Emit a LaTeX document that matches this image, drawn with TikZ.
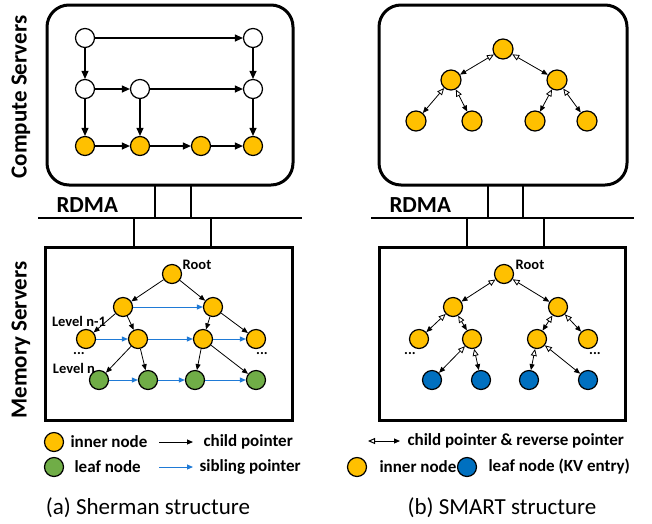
\documentclass[tikz,border=0pt]{standalone}
\usepackage{fontspec}
\setmainfont{Carlito}
\usetikzlibrary{arrows.meta}
\definecolor{ylw}{HTML}{FFC000}
\definecolor{grn}{HTML}{70AD47}
\definecolor{blu}{HTML}{0070C0}
\definecolor{sib}{HTML}{1F7AD6}
\begin{document}
\begin{tikzpicture}[x=1pt,y=-1pt,
  nd/.style={circle,draw,line width=1.2pt,minimum size=19pt,inner sep=0pt},
  wn/.style={nd,fill=white},
  yn/.style={nd,fill=ylw},
  gn/.style={nd,fill=grn},
  bn/.style={nd,fill=blu},
  carr/.style={-{Triangle[length=8pt,width=7pt]},line width=1.1pt},
  marr/.style={-{Triangle[length=6pt,width=5pt]},line width=0.8pt},
  sarr/.style={-{Triangle[length=6pt,width=5pt]},line width=0.9pt,draw=sib,color=sib},
  darr/.style={{Triangle[open,length=7pt,width=6pt,fill=white]}-{Triangle[length=6pt,width=5pt]},line width=0.8pt},
  box/.style={draw,line width=3pt},
  wire/.style={line width=2.8pt},
  big/.style={font=\fontsize{23}{26}\selectfont\bfseries},
  leg/.style={font=\fontsize{17}{20}\selectfont\bfseries},
  lab/.style={font=\fontsize{14.5}{16}\selectfont\bfseries},
  captxt/.style={font=\fontsize{23}{26}\selectfont}
]
\useasboundingbox (0,0) rectangle (652,523);

% ---------------- side labels
\node[big,rotate=90] (cs) at (21,97) {Compute Servers};
\node[big,rotate=90] (ms) at (21,340) {Memory Servers};

% ================= (a) Sherman =================
\draw[box,rounded corners=22pt] (47,5) rectangle (293,185);
\coordinate (acb1) at (155,185); \coordinate (acb2) at (191,185);
\coordinate (abus1) at (38,218); \coordinate (abus2) at (302,218);
\draw[wire] (abus1) -- (abus2);
\draw[wire] (acb1) -- (acb1 |- abus1);
\draw[wire] (acb2) -- (acb2 |- abus1);
\coordinate (amt1) at (134,247); \coordinate (amt2) at (211,247);
\draw[wire] (amt1 |- abus1) -- (amt1);
\draw[wire] (amt2 |- abus1) -- (amt2);
\node[big,anchor=west] (ardma) at (53,205) {RDMA};
\draw[box] (45,247) rectangle (292,420);

% compute nodes (a)
\node[wn] (c11) at (85,38) {};
\node[wn] (c12) at (253,38) {};
\node[wn] (c21) at (85,89) {};
\node[wn] (c22) at (140,89) {};
\node[wn] (c23) at (253,89) {};
\node[yn] (c31) at (85,146) {};
\node[yn] (c32) at (140,146) {};
\node[yn] (c33) at (201,146) {};
\node[yn] (c34) at (253,146) {};
\draw[carr] (c11) -- (c12);
\draw[carr] (c11) -- (c21);
\draw[carr] (c12) -- (c23);
\draw[carr] (c21) -- (c22);
\draw[carr] (c22) -- (c23);
\draw[carr] (c21) -- (c31);
\draw[carr] (c22) -- (c32);
\draw[carr] (c23) -- (c34);
\draw[carr] (c31) -- (c32);
\draw[carr] (c32) -- (c33);
\draw[carr] (c33) -- (c34);

% memory nodes (a)
\node[yn] (r) at (172,274) {};
\node[lab] (rl) at (197,265) {Root};
\node[yn] (a21) at (123,307) {};
\node[yn] (a22) at (213,307) {};
\node[yn] (a31) at (86,339) {};
\node[yn] (a32) at (138,339) {};
\node[yn] (a33) at (203,339) {};
\node[yn] (a34) at (256,339) {};
\node[gn] (a41) at (99,380) {};
\node[gn] (a42) at (148,380) {};
\node[gn] (a43) at (195,380) {};
\node[gn] (a44) at (256,380) {};
\node[lab] (ln1) at (79,321) {Level n-1};
\node[lab] (ln) at (74,368) {Level n};
\node[lab] (ad1) at (79,354) {...};
\node[lab] (ad2) at (262,354) {...};
\draw[marr] (r) -- (a21);
\draw[marr] (r) -- (a22);
\draw[marr] (a21) -- (a31);
\draw[marr] (a21) -- (a32);
\draw[marr] (a22) -- (a33);
\draw[marr] (a22) -- (a34);
\draw[marr] (a32) -- (a41);
\draw[marr] (a32) -- (a42);
\draw[marr] (a33) -- (a43);
\draw[marr] (a33) -- (a44);
\draw[sarr] (a21) -- (a22);
\draw[sarr] (a31) -- (a32);
\draw[sarr] (a32) -- (a33);
\draw[sarr] (a33) -- (a34);
\draw[sarr] (a41) -- (a42);
\draw[sarr] (a42) -- (a43);
\draw[sarr] (a43) -- (a44);

% legend (a)
\node[yn] (lgy) at (54,442) {};
\node[gn] (lgg) at (54,467) {};
\node[leg,anchor=west] (lgyt) at (67,442) {inner node};
\node[leg,anchor=west] (lggt) at (71,467) {leaf node};
\coordinate (la1) at (159,442); \coordinate (la2) at (193,442);
\coordinate (lb1) at (159,467); \coordinate (lb2) at (193,467);
\draw[marr,line width=1pt] (la1) -- (la2);
\draw[sarr,line width=1pt] (lb1) -- (lb2);
\node[leg,anchor=west] (lat) at (200,442) {child pointer};
\node[leg,anchor=west] (lbt) at (196,467) {sibling pointer};
\node[captxt] (capa) at (148,508) {(a) Sherman structure};

% ================= (b) SMART =================
\draw[box,rounded corners=22pt] (379,5) rectangle (627,185);
\coordinate (bcb1) at (488,185); \coordinate (bcb2) at (523,185);
\coordinate (bbus1) at (371,218); \coordinate (bbus2) at (634,218);
\draw[wire] (bbus1) -- (bbus2);
\draw[wire] (bcb1) -- (bcb1 |- bbus1);
\draw[wire] (bcb2) -- (bcb2 |- bbus1);
\coordinate (bmt1) at (467,247); \coordinate (bmt2) at (544,247);
\draw[wire] (bmt1 |- bbus1) -- (bmt1);
\draw[wire] (bmt2 |- bbus1) -- (bmt2);
\node[big,anchor=west] (brdma) at (386,205) {RDMA};
\draw[box] (379,247) rectangle (625,420);

% compute nodes (b)
\node[yn,minimum size=20pt] (s1) at (503,49) {};
\node[yn,minimum size=20pt] (s21) at (451,80) {};
\node[yn,minimum size=20pt] (s22) at (557,80) {};
\node[yn,minimum size=20pt] (s31) at (416,121) {};
\node[yn,minimum size=20pt] (s32) at (472,121) {};
\node[yn,minimum size=20pt] (s33) at (535,121) {};
\node[yn,minimum size=20pt] (s34) at (587,121) {};
\draw[darr] (s1) -- (s21);
\draw[darr] (s1) -- (s22);
\draw[darr] (s21) -- (s31);
\draw[darr] (s21) -- (s32);
\draw[darr] (s22) -- (s33);
\draw[darr] (s22) -- (s34);

% memory nodes (b)
\node[yn] (t1) at (504,274) {};
\node[lab] (tl) at (530,265) {Root};
\node[yn] (t21) at (453,307) {};
\node[yn] (t22) at (558,307) {};
\node[yn] (t31) at (419,339) {};
\node[yn] (t32) at (472,339) {};
\node[yn] (t33) at (537,339) {};
\node[yn] (t34) at (588,339) {};
\node[bn] (t41) at (432,380) {};
\node[bn] (t42) at (481,380) {};
\node[bn] (t43) at (529,380) {};
\node[bn] (t44) at (588,380) {};
\node[lab] (bd1) at (410,354) {...};
\node[lab] (bd2) at (595,354) {...};
\draw[darr] (t1) -- (t21);
\draw[darr] (t1) -- (t22);
\draw[darr] (t21) -- (t31);
\draw[darr] (t21) -- (t32);
\draw[darr] (t22) -- (t33);
\draw[darr] (t22) -- (t34);
\draw[darr] (t32) -- (t41);
\draw[darr] (t32) -- (t42);
\draw[darr] (t33) -- (t43);
\draw[darr] (t33) -- (t44);

% legend (b)
\coordinate (lc1) at (368,441); \coordinate (lc2) at (400,441);
\draw[darr,line width=1pt] (lc1) -- (lc2);
\node[leg,anchor=west] (lct) at (404,441) {child pointer \& reverse pointer};
\node[yn] (lby) at (357,467) {};
\node[leg,anchor=west] (lbyt) at (376,467) {inner node};
\node[bn] (lbb) at (467,467) {};
\node[leg,anchor=west] (lbbt) at (485,467) {leaf node (KV entry)};
\node[captxt] (capb) at (502,508) {(b) SMART structure};
\end{tikzpicture}
\end{document}
